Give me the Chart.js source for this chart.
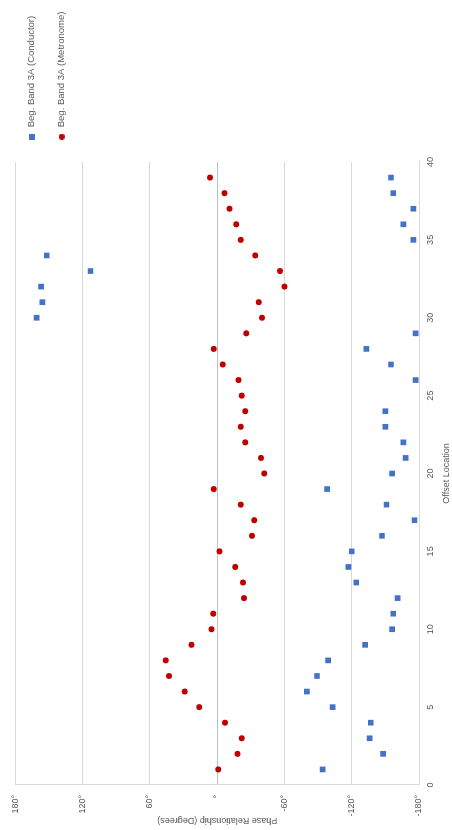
<!DOCTYPE html>
<html>
<head>
<meta charset="utf-8">
<script src="https://cdn.jsdelivr.net/npm/chart.js@4.4.1/dist/chart.umd.min.js"></script>
<style>
  html, body { margin: 0; padding: 0; background: #fff; overflow: hidden; }
  body { width: 452px; height: 830px; position: relative; }
  /* the chart is laid out landscape and turned a quarter turn counter-clockwise */
  #wrap {
    position: absolute; left: 0; top: 0;
    width: 830px; height: 452px;
    transform-origin: 0 0;
    transform: translateY(830px) rotate(-90deg);
  }
  canvas { display: block; }
</style>
</head>
<body>
<div id="wrap"><canvas id="chart" width="830" height="452"></canvas></div>
<script>
// Offset locations measured
const offsets = [1, 2, 3, 4, 5, 6, 7, 8, 9, 10, 11, 12, 13, 14, 15, 16, 17, 18, 19, 20,
                 21, 22, 23, 24, 25, 26, 27, 28, 29, 30, 31, 32, 33, 34, 35, 36, 37, 38, 39];

// Phase relationship in degrees, Beg. Band 3A with conductor (no reading at offset 25)
const conductor = [-94, -148, -136, -137, -103, -80, -89, -99, -132, -156,
                   -157, -161, -124, -117, -120, -147, -176, -151, -98, -156,
                   -168, -166, -150, -150, null, -177, -155, -133, -177, 161,
                   156, 157, 113, 152, -175, -166, -175, -157, -155];

// Phase relationship in degrees, Beg. Band 3A with metronome
const metronome = [-1, -18, -22, -7, 16, 29, 43, 46, 23, 5,
                   3.5, -24, -23, -16, -2, -31, -33, -21, 3, -42,
                   -39, -25, -21, -25, -22, -19, -5, 3, -26, -40,
                   -37, -60, -56, -34, -21, -17, -11, -6.5, 6.5];

const seriesNames = ['Beg. Band 3A (Conductor)', 'Beg. Band 3A (Metronome)'];
const seriesColors = ['#4472C4', '#C00000'];
const phaseTicks = [180, 120, 60, 0, -60, -120, -180];
const offsetTicks = [0, 5, 10, 15, 20, 25, 30, 35, 40];

const FONT = 'Liberation Sans';
const TEXT = '#595959';
const LEGEND_SIZE = 9.5;

function toPoints(values) {
  return offsets
    .map((x, i) => ({ x: x, y: values[i] }))
    .filter(p => p.y !== null);
}

// small legend swatches: a square and a dot of equal size
function swatch(shape, color) {
  const c = document.createElement('canvas');
  c.width = 6; c.height = 6;
  const g = c.getContext('2d');
  g.fillStyle = color;
  if (shape === 'rect') {
    g.fillRect(0, 0, 6, 6);
  } else {
    g.beginPath();
    g.arc(3, 3, 3, 0, Math.PI * 2);
    g.fill();
  }
  return c;
}
const legendMarks = [swatch('rect', seriesColors[0]), swatch('circle', seriesColors[1])];

// room for the legend column so the plot ends at the same place
const measure = document.createElement('canvas').getContext('2d');
measure.font = LEGEND_SIZE + 'px "' + FONT + '"';
const textW = Math.max(...seriesNames.map(n => measure.measureText(n).width));
const legendPad = 20.5;
const legendW = legendPad + LEGEND_SIZE + LEGEND_SIZE / 2 + textW + 10;
const rightPad = Math.max(0, 830 - 668 - legendW);

new Chart(document.getElementById('chart'), {
  type: 'scatter',
  data: {
    datasets: [
      {
        label: seriesNames[0],
        data: toPoints(conductor),
        pointStyle: 'rect',
        pointRadius: 4,
        pointHoverRadius: 4,
        pointBorderWidth: 0,
        backgroundColor: seriesColors[0],
        borderColor: seriesColors[0]
      },
      {
        label: seriesNames[1],
        data: toPoints(metronome),
        pointStyle: 'circle',
        pointRadius: 3,
        pointHoverRadius: 3,
        pointBorderWidth: 0,
        backgroundColor: seriesColors[1],
        borderColor: seriesColors[1]
      }
    ]
  },
  options: {
    responsive: false,
    animation: false,
    devicePixelRatio: 1,
    layout: { padding: { top: 6.5, left: 0, right: rightPad, bottom: 0 } },
    plugins: {
      // spacer above the plot area
      title: { display: true, text: '', padding: 0, font: { size: 6.5, lineHeight: 1 } },
      tooltip: { enabled: false },
      legend: {
        position: 'right',
        align: 'start',
        labels: {
          usePointStyle: true,
          boxWidth: LEGEND_SIZE,
          boxHeight: 6,
          padding: legendPad,
          color: TEXT,
          font: { family: FONT, size: LEGEND_SIZE },
          generateLabels: chart => {
            const items = Chart.defaults.plugins.legend.labels.generateLabels(chart);
            items.forEach((it, i) => { it.pointStyle = legendMarks[i]; });
            return items;
          }
        }
      }
    },
    scales: {
      x: {
        type: 'linear',
        position: 'bottom',
        min: 0,
        max: 40,
        afterBuildTicks: s => { s.ticks = offsetTicks.map(v => ({ value: v })); },
        afterFit: s => { s.height = 33; },
        grid: { display: false, drawTicks: false },
        border: { display: true, color: '#d9d9d9', width: 1 },
        ticks: { color: TEXT, padding: 6, maxRotation: 0, font: { family: FONT, size: 9 } },
        title: {
          display: true,
          text: 'Offset Location',
          color: TEXT,
          padding: { top: 0, bottom: 0 },
          font: { family: FONT, size: 9 }
        }
      },
      y: {
        type: 'linear',
        position: 'left',
        min: -180,
        max: 180,
        afterBuildTicks: s => { s.ticks = phaseTicks.map(v => ({ value: v })); },
        afterFit: s => { s.width = 45; },
        grid: {
          drawTicks: false,
          color: c => (c.tick && c.tick.value === 0 ? '#bfbfbf' : '#d9d9d9'),
          lineWidth: 1
        },
        border: { display: true, color: '#d9d9d9', width: 1 },
        ticks: {
          color: TEXT,
          padding: 10,
          font: { family: FONT, size: 9 },
          callback: v => (v === 0 ? '°' : v + '°')
        },
        title: {
          display: true,
          text: 'Phase Relationship (Degrees)',
          color: TEXT,
          padding: { top: 4, bottom: 0 },
          font: { family: FONT, size: 9 }
        }
      }
    }
  }
});
</script>
</body>
</html>
